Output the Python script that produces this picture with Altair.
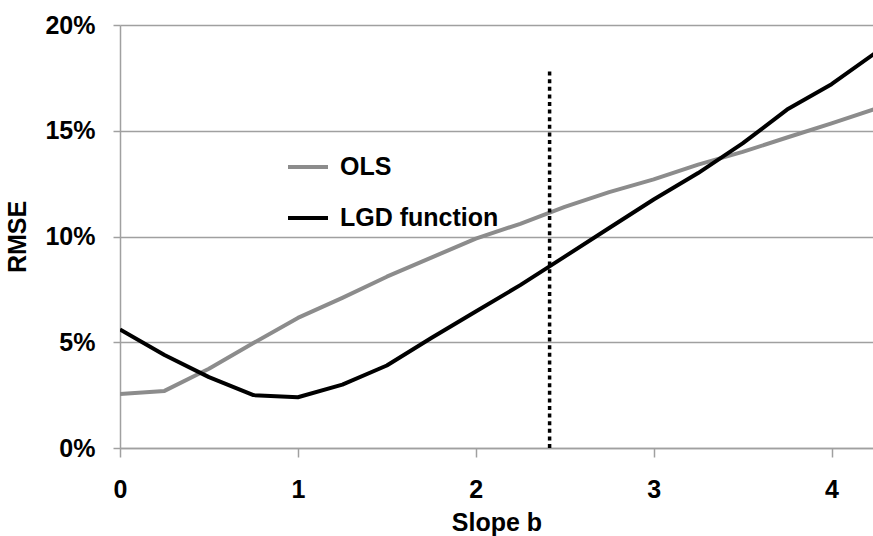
import altair as alt
import pandas as pd

slope_b = [0, 0.25, 0.5, 0.75, 1.0, 1.25, 1.5, 1.75, 2.0, 2.25, 2.5, 2.75, 3.0, 3.25, 3.5, 3.75, 4.0, 4.25]
ols = [2.55, 2.7, 3.75, 4.96, 6.15, 7.1, 8.1, 9.0, 9.9, 10.6, 11.4, 12.1, 12.7, 13.4, 14.0, 14.68, 15.35, 16.05]
lgd = [5.6, 4.4, 3.35, 2.5, 2.4, 3.0, 3.9, 5.2, 6.45, 7.7, 9.05, 10.4, 11.75, 13.0, 14.4, 16.0, 17.2, 18.7]
series_names = ["OLS", "LGD function"]
series_colors = ["#8c8c8c", "#000000"]

marker_b = [2.415]
marker_top = [17.8]

rows = []
for name, vals in zip(series_names, [ols, lgd]):
    for b, v in zip(slope_b, vals):
        rows.append({"b": b, "rmse": v / 100.0, "series": name})
df = pd.DataFrame(rows)
mk = pd.DataFrame({"b": marker_b, "y0": [0.0], "y1": [t / 100.0 for t in marker_top]})

FONT = "Liberation Sans"
x_scale = alt.Scale(domain=[0, 4.233], nice=False, zero=False)
y_scale = alt.Scale(domain=[0, 0.2], nice=False)

lines = alt.Chart(df).mark_line(strokeWidth=4, clip=True, strokeJoin="round").encode(
    x=alt.X("b:Q", scale=x_scale,
            axis=alt.Axis(title="Slope b", values=[0, 1, 2, 3, 4], format="d",
                          grid=False, tickSize=9, labelPadding=20, titlePadding=8,
                          labelFlush=False)),
    y=alt.Y("rmse:Q", scale=y_scale,
            axis=alt.Axis(title="RMSE", values=[0, 0.05, 0.1, 0.15, 0.2], format=".0%",
                          grid=True, tickSize=7, labelPadding=18, titlePadding=14,
                          labelFlush=False)),
    color=alt.Color("series:N", scale=alt.Scale(domain=series_names, range=series_colors),
                    legend=alt.Legend(title=None, orient="none", legendX=166, legendY=120,
                                      symbolType="stroke", symbolSize=1600, symbolStrokeWidth=4,
                                      labelFontSize=25, labelFont=FONT, labelFontWeight="bold",
                                      labelColor="#000000", rowPadding=16, labelOffset=10,
                                      padding=0)),
)

rule = alt.Chart(mk).mark_rule(color="#000000", strokeWidth=3.5, strokeDash=[4, 3.6], strokeCap="butt").encode(
    x=alt.X("b:Q", scale=x_scale),
    y=alt.Y("y0:Q", scale=y_scale),
    y2="y1:Q",
)

chart = alt.layer(lines, rule).properties(
    width=753, height=423,
    padding={"left": 120, "top": 25, "right": 0, "bottom": 88},
    autosize=alt.AutoSizeParams(type="none"),
    background="#ffffff",
).configure_view(stroke=None).configure_axis(
    labelFont=FONT, labelFontSize=25, labelFontWeight="bold", labelColor="#000000",
    titleFont=FONT, titleFontSize=25, titleFontWeight="bold", titleColor="#000000",
    domainColor="#a0a0a0", domainWidth=1.5, tickColor="#a0a0a0", tickWidth=1.5,
    gridColor="#a0a0a0", gridWidth=1.5,
)

chart.save("out.html", embed_options={"renderer": "svg", "actions": False})
